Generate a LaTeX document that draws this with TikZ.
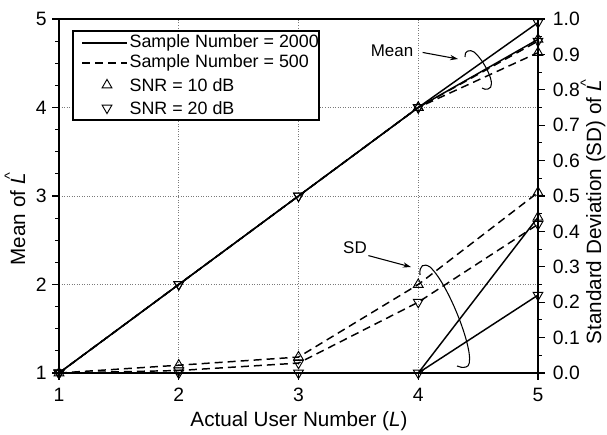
\documentclass[tikz,border=0pt]{standalone}
\usepackage{fontspec}
\setmainfont{Liberation Sans}
\usepackage{graphicx}
\usetikzlibrary{arrows.meta, plotmarks, positioning}
\definecolor{gridgray}{HTML}{7A7A7A}

\newcommand{\hatL}{\textit{L}\kern-0.3em\raisebox{0.5em}{\scalebox{0.7}{\textasciicircum}}\kern0.1em}

\begin{document}
\begin{tikzpicture}[x=0.75pt, y=0.75pt,
  gridline/.style={gridgray, line width=0.5pt, dash pattern=on 0.7pt off 1.2pt},
  axisline/.style={line width=1.1pt},
  tickline/.style={line width=0.8pt},
  ticklabel/.style={font=\fontsize{14.5}{16}\selectfont, inner sep=1pt},
  axislabel/.style={font=\fontsize{15.5}{18}\selectfont, inner sep=0pt},
  legendtext/.style={font=\fontsize{13.4}{15}\selectfont, anchor=west, inner sep=1pt},
  notelabel/.style={font=\fontsize{12.7}{14}\selectfont, inner sep=1pt},
  solidcurve/.style={line width=1.1pt},
  dashcurve/.style={line width=1.1pt, dash pattern=on 6pt off 3.75pt},
  upmark/.style={mark=triangle, mark size=4.2pt, mark options={solid, fill=white, line width=0.7pt}},
  downmark/.style={mark=triangle, mark size=4.2pt, mark options={solid, fill=white, line width=0.7pt, rotate=180}},
  noteline/.style={line width=0.8pt},
  notearrow/.style={line width=0.8pt, -{Stealth[length=6pt, width=4pt]}}]

  \useasboundingbox (0,0) rectangle (607,435);

  % data frame: L along x, mean of L-hat up y (an SD value s sits at 1+4s)
  \begin{scope}[shift={(-60.75,-26.5)}, x=89.8125pt, y=66.375pt]
    % grid
    \foreach \g in {2,3,4} {
      \draw[gridline] (\g,1) -- (\g,5);
      \draw[gridline] (1,\g) -- (5,\g);
    }

    % frame and ticks
    \draw[axisline] (1,1) rectangle (5,5);
    \foreach \m in {1.25,1.5,...,4.75}
      \draw[tickline] (1,\m) -- ++(-3pt,0);
    \foreach \m in {1,...,5} {
      \draw[tickline] (1,\m) -- ++(-5.5pt,0);
      \node[ticklabel, anchor=east] (ml\m) at ([xshift=-8pt]1,\m) {\m};
    }
    \foreach \s in {0,...,9}
      \draw[tickline] (5,{1.2+0.4*\s}) -- ++(3pt,0);
    \foreach \s/\t in {0/0.0, 1/0.1, 2/0.2, 3/0.3, 4/0.4, 5/0.5, 6/0.6, 7/0.7, 8/0.8, 9/0.9, 10/1.0} {
      \draw[tickline] (5,{1+0.4*\s}) -- ++(5.5pt,0);
      \node[ticklabel, anchor=west] (sl\s) at ([xshift=10pt]5,{1+0.4*\s}) {\t};
    }
    \foreach \l in {1,...,5} {
      \draw[tickline] (\l,1) -- ++(0,-5pt);
      \node[ticklabel, anchor=base] (xl\l) at ([yshift=-21.75pt]\l,1) {\l};
    }

    % mean curves
    \draw[solidcurve, upmark, mark indices={4,5}] plot coordinates {(1,1) (2,2) (3,3) (4,4) (5,4.77)};
    \draw[solidcurve, downmark] plot coordinates {(1,1) (2,2) (3,3) (4,4) (5,4.96)};
    \draw[dashcurve, upmark, mark indices={4,5}] plot coordinates {(1,1) (2,2) (3,3) (4,4) (5,4.62)};
    \draw[dashcurve, downmark] plot coordinates {(1,1) (2,2) (3,3) (4,4) (5,4.75)};

    % SD curves
    \draw[solidcurve, upmark, mark indices={5}] plot coordinates {(1,1) (2,1) (3,1) (4,1) (5,2.76)};
    \draw[solidcurve, downmark] plot coordinates {(1,1) (2,1) (3,1) (4,1) (5,1.88)};
    \draw[dashcurve, upmark] plot coordinates {(1,1) (2,1.088) (3,1.18) (4,2) (5,3.04)};
    \draw[dashcurve, downmark] plot coordinates {(1,1) (2,1.028) (3,1.112) (4,1.8) (5,2.68)};
  \end{scope}

  % legend
  \draw[line width=0.8pt, fill=white] (73,315) rectangle (319,404);
  \draw[solidcurve] (82,392) -- (127,392);
  \node[legendtext] (key2000) at (128,392) {Sample Number = 2000};
  \draw[dashcurve] (82,372) -- (127,372);
  \node[legendtext] (key500) at (128,372) {Sample Number = 500};
  \draw[upmark, only marks] plot coordinates {(107,350)};
  \node[legendtext] (keyten) at (128,350) {SNR = 10 dB};
  \draw[downmark, only marks] plot coordinates {(107,327)};
  \node[legendtext] (keytwenty) at (128,327) {SNR = 20 dB};

  % notes
  \node[notelabel] (meanlbl) at (392,384) {Mean};
  \coordinate (meantip) at (458,376);
  \draw[notearrow, shorten <=6pt] (meanlbl.east) -- (meantip);
  \draw[noteline] (465,378) .. controls (464,384) and (470,386) .. (474,383)
    .. controls (484,375) and (498,348) .. (488,346)
    .. controls (486,345) and (484,346) .. (482,347);

  \node[notelabel] (sdlbl) at (355,187) {SD};
  \coordinate (sdtip) at (411,168);
  \draw[notearrow] (sdlbl.south east) -- (sdtip);
  \draw[noteline] (420,160) .. controls (419,170) and (424,172) .. (430,168)
    .. controls (450,150) and (480,70) .. (466,68)
    .. controls (462,67) and (460,68) .. (457,69);

  % axis titles
  \node[axislabel, anchor=base] (xtitle) at (299,8) {Actual User Number (\textit{L})};
  \node[axislabel, rotate=90, anchor=base] (meantitle) at (25,217) {Mean of \hatL};
  \node[axislabel, rotate=90, anchor=base] (sdtitle) at (601,224) {Standard Deviation (SD) of \hatL};
\end{tikzpicture}
\end{document}
